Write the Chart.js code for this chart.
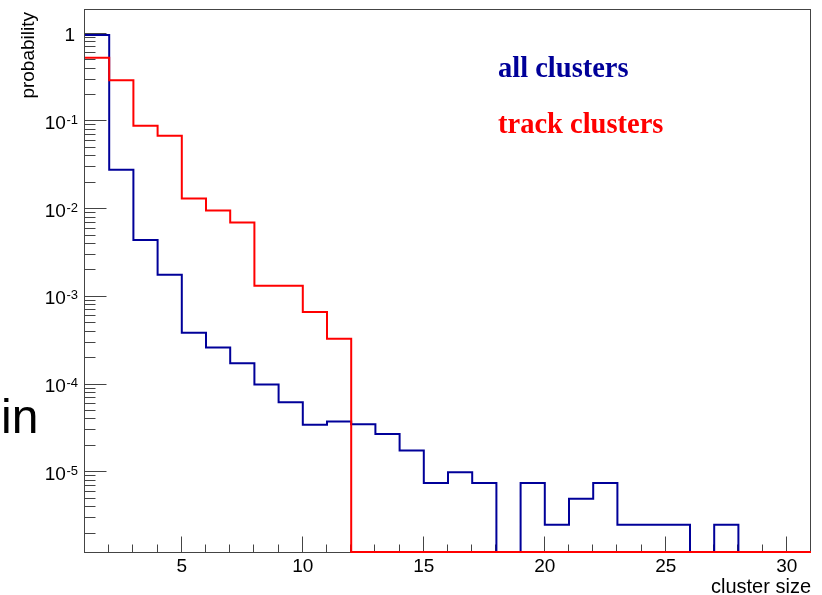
<!DOCTYPE html>
<html>
<head>
<meta charset="utf-8">
<script src="https://cdn.jsdelivr.net/npm/chart.js@4/dist/chart.umd.min.js"></script>
<style>
html,body{margin:0;padding:0;background:#fff;}
#wrap{width:822px;height:595px;position:relative;}
</style>
</head>
<body>
<div id="wrap"><canvas id="c"></canvas></div>
<script>
// ---- data ----
const clusterSizes = [1,2,3,4,5,6,7,8,9,10,11,12,13,14,15,16,17,18,19,20,21,22,23,24,25,26,27,28,29,30];
const allClusters = [0.965, 0.028, 0.00444, 0.00179, 3.9e-4, 2.65e-4, 1.75e-4, 1.0e-4, 6.27e-5, 3.49e-5,
                     3.78e-5, 3.52e-5, 2.74e-5, 1.77e-5, 7.57e-6, 1.0e-5, 7.57e-6, 0, 7.57e-6, 2.52e-6,
                     5.0e-6, 7.57e-6, 2.52e-6, 2.52e-6, 2.52e-6, 0, 2.52e-6, 0, 0, 0];
const trackClusters = [0.53, 0.294, 0.0889, 0.0684, 0.0132, 0.00964, 0.00703, 0.00134, 0.00134, 6.71e-4,
                       3.33e-4, 0, 0, 0, 0, 0, 0, 0, 0, 0,
                       0, 0, 0, 0, 0, 0, 0, 0, 0, 0];
const seriesNames = ['all clusters', 'track clusters'];
const xTickValues = [5, 10, 15, 20, 25, 30];
const yDecadeExponents = [0, -1, -2, -3, -4, -5];
const xRange = [1, 31];
const yRange = [1.234e-6, 1.86];
const xTitle = 'cluster size';
const yTitle = 'probability';
const strayLabel = 'in';

const BLUE = '#000099';
const RED = '#ff0000';
const SANS = '"Liberation Sans", Arial, Helvetica, sans-serif';
const SERIF = '"Liberation Serif", "Times New Roman", Times, serif';

// Empty bins are drawn on the axis minimum (as in a log-scale histogram)
function histPoints(values) {
  const floor = yRange[0];
  const pts = clusterSizes.map((x, i) => ({ x: x, y: values[i] > 0 ? values[i] : floor }));
  const last = values[values.length - 1];
  pts.push({ x: clusterSizes[clusterSizes.length - 1] + 1, y: last > 0 ? last : floor });
  return pts;
}

const rootAxes = {
  id: 'rootAxes',
  beforeDatasetsDraw(chart) {
    const { ctx, chartArea: a, scales } = chart;
    const x = scales.x, y = scales.y;
    ctx.save();
    ctx.strokeStyle = '#444';
    ctx.lineWidth = 1;
    const L = Math.round(a.left) - 0.5, R = Math.round(a.right) - 0.5;
    const T = Math.round(a.top) - 0.5, B = Math.round(a.bottom) + 0.5;
    ctx.strokeRect(L, T, R - L, B - T);
    ctx.beginPath();
    for (let v = Math.ceil(x.min) + 1; v <= x.max; v++) {
      const px = Math.round(x.getPixelForValue(v)) - 0.5;
      const len = xTickValues.includes(v) ? 16 : 8;
      ctx.moveTo(px, B);
      ctx.lineTo(px, B - len);
    }
    const e0 = Math.floor(Math.log10(y.min)), e1 = Math.ceil(Math.log10(y.max));
    for (let e = e0; e <= e1; e++) {
      for (let m = 1; m <= 9; m++) {
        const v = m * Math.pow(10, e);
        if (v < y.min || v > y.max) continue;
        const py = Math.round(y.getPixelForValue(v)) - 0.5;
        const len = m === 1 ? 22 : 11;
        ctx.moveTo(L, py);
        ctx.lineTo(L + len, py);
      }
    }
    ctx.stroke();
    ctx.restore();
  },
  afterDraw(chart) {
    const { ctx, chartArea: a, scales } = chart;
    const x = scales.x, y = scales.y;
    ctx.save();
    ctx.fillStyle = '#000';
    ctx.font = '19px ' + SANS;
    ctx.textAlign = 'center';
    ctx.textBaseline = 'alphabetic';
    xTickValues.forEach(v => {
      ctx.fillText(String(v), x.getPixelForValue(v), a.bottom + 20);
    });
    yDecadeExponents.forEach(e => {
      const py = y.getPixelForValue(Math.pow(10, e));
      if (e === 0) {
        ctx.font = '19px ' + SANS;
        ctx.textAlign = 'right';
        ctx.fillText('1', a.left - 10, py + 7);
      } else {
        const ex = String(e);
        ctx.font = '13px ' + SANS;
        ctx.textAlign = 'right';
        const right = a.left - 7;
        ctx.fillText(ex, right, py + 2.5);
        const w = ctx.measureText(ex).width;
        ctx.font = '19px ' + SANS;
        ctx.fillText('10', right - w - 0.5, py + 7.5);
      }
    });
    ctx.font = '20px ' + SANS;
    ctx.textAlign = 'right';
    ctx.fillText(xTitle, a.right, 593);
    ctx.save();
    ctx.translate(34, 12);
    ctx.rotate(-Math.PI / 2);
    ctx.font = '19px ' + SANS;
    ctx.textAlign = 'right';
    ctx.fillText(yTitle, 0, 0);
    ctx.restore();
    ctx.font = 'bold 28.5px ' + SERIF;
    ctx.textAlign = 'left';
    ctx.fillStyle = BLUE;
    ctx.fillText(seriesNames[0], 498, 77);
    ctx.fillStyle = RED;
    ctx.fillText(seriesNames[1], 498, 133);
    ctx.fillStyle = '#000';
    ctx.font = '48px ' + SANS;
    ctx.fillText(strayLabel, 1, 433);
    ctx.restore();
  }
};

new Chart(document.getElementById('c'), {
  type: 'line',
  data: {
    datasets: [
      { label: seriesNames[1], data: histPoints(trackClusters), borderColor: RED, borderWidth: 2,
        stepped: true, pointRadius: 0, fill: false, clip: false },
      { label: seriesNames[0], data: histPoints(allClusters), borderColor: BLUE, borderWidth: 2,
        stepped: true, pointRadius: 0, fill: false, clip: false }
    ]
  },
  options: {
    responsive: true,
    maintainAspectRatio: false,
    animation: false,
    layout: { padding: { left: 85, right: 11, top: 10, bottom: 43 } },
    plugins: { legend: { display: false }, tooltip: { enabled: false } },
    scales: {
      x: { type: 'linear', min: xRange[0], max: xRange[1], display: false },
      y: { type: 'logarithmic', min: yRange[0], max: yRange[1], display: false }
    }
  },
  plugins: [rootAxes]
});
</script>
</body>
</html>
